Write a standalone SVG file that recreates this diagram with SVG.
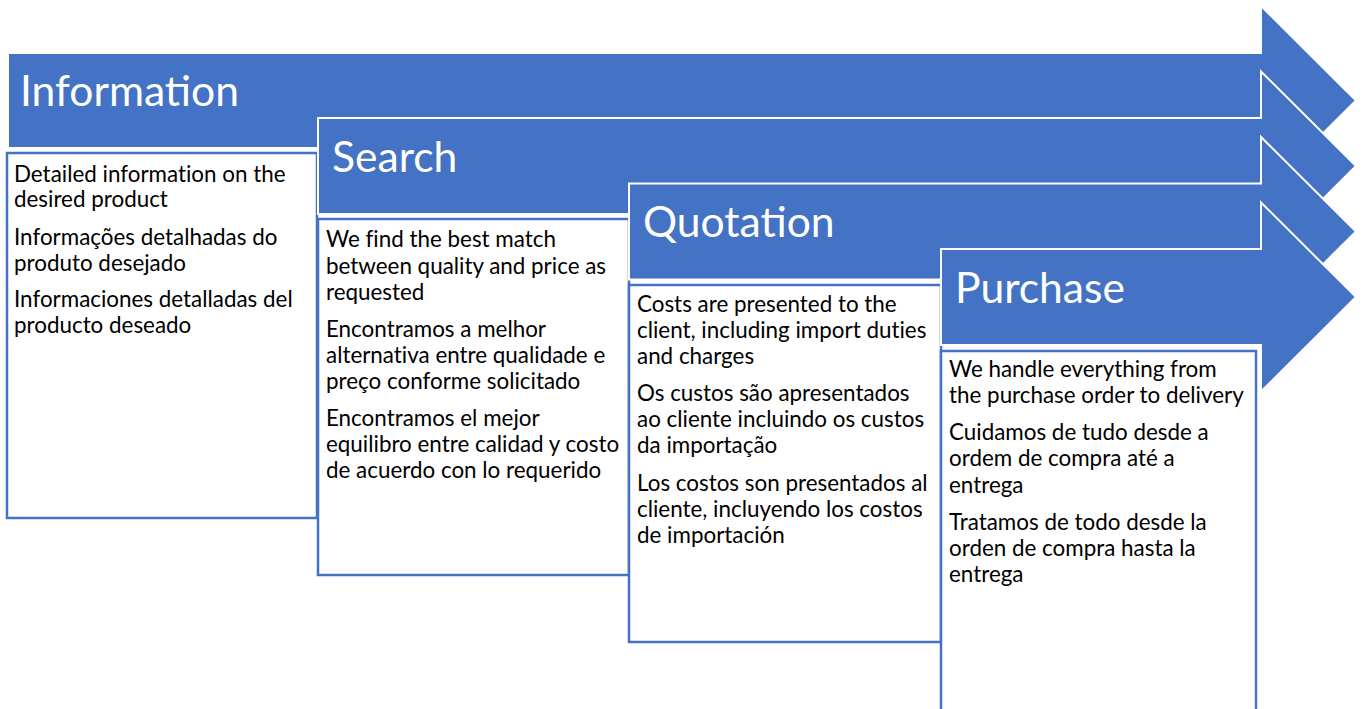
<svg xmlns="http://www.w3.org/2000/svg" width="1364" height="709" viewBox="0 0 1364 709">
<style>
.arrow{fill:#4472C4;stroke:#FFFFFF;stroke-width:2;stroke-linejoin:miter}
.box{fill:#FFFFFF;stroke:#4472C4;stroke-width:2.5}
.title{font-family:Lato,"Open Sans",sans-serif;font-size:42.6px;fill:#FFFFFF}
.body{font-family:Lato,"Open Sans",sans-serif;font-size:22.4px;fill:#000000;font-variant-ligatures:none}
</style>
<rect width="1364" height="709" fill="#FFFFFF"/>
<g id="node-information">
<path class="arrow" d="M8,53 L1261,53 L1261,6 L1356,100.5 L1261,195 L1261,148 L8,148 Z"/>
<text class="title" x="20" y="106">Information</text>
<rect class="box" x="7" y="153" width="310" height="365"/>
<text class="body"><tspan x="14" y="182">Detailed information on the</tspan><tspan x="14" y="207">desired product</tspan><tspan x="14" y="245">Informações detalhadas do</tspan><tspan x="14" y="271">produto desejado</tspan><tspan x="14" y="307">Informaciones detalladas del</tspan><tspan x="14" y="333">producto deseado</tspan></text>
</g>
<g id="node-search">
<path class="arrow" d="M318,118 L1261,118 L1261,71.5 L1356,166 L1261,260.5 L1261,214 L318,214 Z"/>
<text class="title" x="332" y="172">Search</text>
<rect class="box" x="318" y="219" width="311" height="356"/>
<text class="body"><tspan x="326" y="247">We find the best match</tspan><tspan x="326" y="274">between quality and price as</tspan><tspan x="326" y="300">requested</tspan><tspan x="326" y="337">Encontramos a melhor</tspan><tspan x="326" y="363">alternativa entre qualidade e</tspan><tspan x="326" y="389">preço conforme solicitado</tspan><tspan x="326" y="426">Encontramos el mejor</tspan><tspan x="326" y="452">equilibro entre calidad y costo</tspan><tspan x="326" y="478">de acuerdo con lo requerido</tspan></text>
</g>
<g id="node-quotation">
<path class="arrow" d="M629,183.5 L1261,183.5 L1261,137 L1356,231.5 L1261,326 L1261,279.5 L629,279.5 Z"/>
<text class="title" x="643" y="237">Quotation</text>
<rect class="box" x="629" y="285" width="312" height="357"/>
<text class="body"><tspan x="637" y="312">Costs are presented to the</tspan><tspan x="637" y="338">client, including import duties</tspan><tspan x="637" y="364">and charges</tspan><tspan x="637" y="401">Os custos são apresentados</tspan><tspan x="637" y="427">ao cliente incluindo os custos</tspan><tspan x="637" y="453">da importação</tspan><tspan x="637" y="491">Los costos son presentados al</tspan><tspan x="637" y="517">cliente, incluyendo los costos</tspan><tspan x="637" y="543">de importación</tspan></text>
</g>
<g id="node-purchase">
<path class="arrow" d="M941,249 L1261,249 L1261,202.5 L1356,297 L1261,391.5 L1261,345 L941,345 Z"/>
<text class="title" x="955" y="303">Purchase</text>
<rect class="box" x="941" y="351" width="315" height="370"/>
<text class="body"><tspan x="949" y="377">We handle everything from</tspan><tspan x="949" y="403">the purchase order to delivery</tspan><tspan x="949" y="440">Cuidamos de tudo desde a</tspan><tspan x="949" y="466">ordem de compra até a</tspan><tspan x="949" y="493">entrega</tspan><tspan x="949" y="530">Tratamos de todo desde la</tspan><tspan x="949" y="556">orden de compra hasta la</tspan><tspan x="949" y="582">entrega</tspan></text>
</g>
<g id="connectors"/>
</svg>
